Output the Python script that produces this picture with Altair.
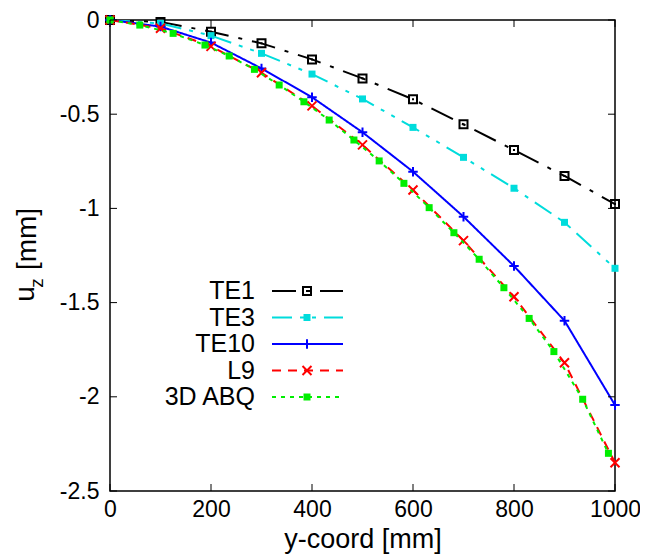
import altair as alt
import pandas as pd

# ---- data ----
x_te = [0, 100, 200, 300, 400, 500, 600, 700, 800, 900, 1000]
te1 = [0, -0.01, -0.062, -0.124, -0.209, -0.31, -0.421, -0.554, -0.69, -0.828, -0.977]
te3 = [0, -0.018, -0.083, -0.177, -0.287, -0.419, -0.57, -0.729, -0.893, -1.074, -1.318]
te10 = [0, -0.035, -0.12, -0.257, -0.41, -0.596, -0.805, -1.044, -1.306, -1.596, -2.044]
l9 = [0, -0.044, -0.14, -0.28, -0.456, -0.663, -0.902, -1.171, -1.469, -1.819, -2.35]
x_abq = [0, 59, 125, 188, 236, 286, 335, 384, 434, 483, 533, 582, 632, 681, 731, 780, 830, 879, 936, 987]
abq = [0, -0.027, -0.071, -0.133, -0.191, -0.262, -0.345, -0.434, -0.531, -0.637, -0.748, -0.867,
       -0.996, -1.129, -1.270, -1.421, -1.584, -1.760, -2.013, -2.30]

x_ticks = [0, 200, 400, 600, 800, 1000]
y_ticks = [0, -0.5, -1, -1.5, -2, -2.5]

names = ["TE1", "TE3", "TE10", "L9", "3D ABQ"]
colors = ["#000000", "#00DCDC", "#0000FF", "#FF0000", "#00EE00"]
dashes = [[24, 10, 4, 10], [20, 8, 4, 8, 4, 8], [1, 0], [9, 7], [4, 5]]

W, H = 505, 471
FONT = "Liberation Sans"

PLUS = "M-1,0L1,0M0,-1L0,1"
CROSS = "M-1,-1L1,1M-1,1L1,-1"
markers = [
    dict(shape="square", filled=False, size=64, strokeWidth=2),
    dict(shape="square", filled=True, size=49, strokeWidth=0),
    dict(shape=PLUS, filled=False, size=90, strokeWidth=2),
    dict(shape=CROSS, filled=False, size=81, strokeWidth=2),
    dict(shape="square", filled=True, size=49, strokeWidth=0),
]

xs = alt.Scale(domain=[0, 1000], nice=False, zero=False)
ys = alt.Scale(domain=[-2.5, 0], nice=False, zero=False)

x_axis = alt.Axis(values=x_ticks, ticks=False, domain=False, grid=False,
                  labelFontSize=23, labelFont=FONT, labelColor="black", labelPadding=7,
                  labelFlush=False, labelOverlap=False,
                  labelExpr="'' + datum.value",
                  title="y-coord [mm]", titleFont=FONT, titleFontSize=27,
                  titleFontWeight="normal", titleColor="black", titlePadding=5)
y_axis = alt.Axis(values=y_ticks, ticks=False, domain=False, grid=False,
                  labelFontSize=23, labelFont=FONT, labelColor="black", labelPadding=11,
                  labelFlush=False, labelOverlap=False,
                  labelExpr="'' + datum.value", title="")

series = [(x_te, te1), (x_te, te3), (x_te, te10), (x_te, l9), (x_abq, abq)]

layers = []
for i, (xv, yv) in enumerate(series):
    df = pd.DataFrame({"x": xv, "y": yv})
    base = alt.Chart(df).encode(
        x=alt.X("x:Q", scale=xs, axis=x_axis),
        y=alt.Y("y:Q", scale=ys, axis=y_axis),
    )
    layers.append(base.mark_line(color=colors[i], strokeWidth=2, strokeDash=dashes[i], clip=True))
    layers.append(base.mark_point(color=colors[i], opacity=1, **markers[i]))
    if i == 0:
        layers.append(base.mark_point(color=colors[i], opacity=1, shape="square", filled=True, size=4))

# inward ticks on all four sides
xt = pd.DataFrame({"x": x_ticks})
yt = pd.DataFrame({"y": y_ticks})
layers.append(alt.Chart(xt).mark_rule(color="black", strokeWidth=1).encode(
    x=alt.X("x:Q", scale=xs, axis=x_axis), y=alt.value(H), y2=alt.value(H - 7)))
layers.append(alt.Chart(xt).mark_rule(color="black", strokeWidth=1).encode(
    x=alt.X("x:Q", scale=xs, axis=x_axis), y=alt.value(0), y2=alt.value(7)))
layers.append(alt.Chart(yt).mark_rule(color="black", strokeWidth=1).encode(
    y=alt.Y("y:Q", scale=ys, axis=y_axis), x=alt.value(0), x2=alt.value(7)))
layers.append(alt.Chart(yt).mark_rule(color="black", strokeWidth=1).encode(
    y=alt.Y("y:Q", scale=ys, axis=y_axis), x=alt.value(W - 7), x2=alt.value(W)))

# legend (gnuplot style: label, then line sample with marker)
one = pd.DataFrame({"a": [0]})
row_y = [271, 297.5, 324, 350.5, 377]
for i, nm in enumerate(names):
    yy = row_y[i]
    layers.append(alt.Chart(one).mark_text(text=nm, align="right", baseline="middle",
                                           font=FONT, fontSize=25, color="black").encode(
        x=alt.value(145), y=alt.value(yy)))
    layers.append(alt.Chart(one).mark_rule(color=colors[i], strokeWidth=2, strokeDash=dashes[i]).encode(
        x=alt.value(162), x2=alt.value(233), y=alt.value(yy)))
    layers.append(alt.Chart(one).mark_point(color=colors[i], opacity=1, **markers[i]).encode(
        x=alt.value(197), y=alt.value(yy)))

# y-axis title u_z [mm] with subscript
layers.append(alt.Chart(one).mark_text(text="u", angle=270, align="center", baseline="middle",
                                       font=FONT, fontSize=28, color="black").encode(
    x=alt.value(-84), y=alt.value(274)))
layers.append(alt.Chart(one).mark_text(text="z", angle=270, align="center", baseline="middle",
                                       font=FONT, fontSize=19, color="black").encode(
    x=alt.value(-73), y=alt.value(263)))
layers.append(alt.Chart(one).mark_text(text="[mm]", angle=270, align="center", baseline="middle",
                                       font=FONT, fontSize=28, color="black").encode(
    x=alt.value(-82), y=alt.value(219)))

chart = alt.layer(*layers).properties(
    width=W, height=H,
    background="white",
    autosize=alt.AutoSizeParams(type="none"),
    padding={"left": 102, "top": 12, "right": 25, "bottom": 70},
).configure_view(stroke="black", strokeWidth=1.5)

chart.save("out.html", embed_options={"renderer": "svg", "actions": False})
